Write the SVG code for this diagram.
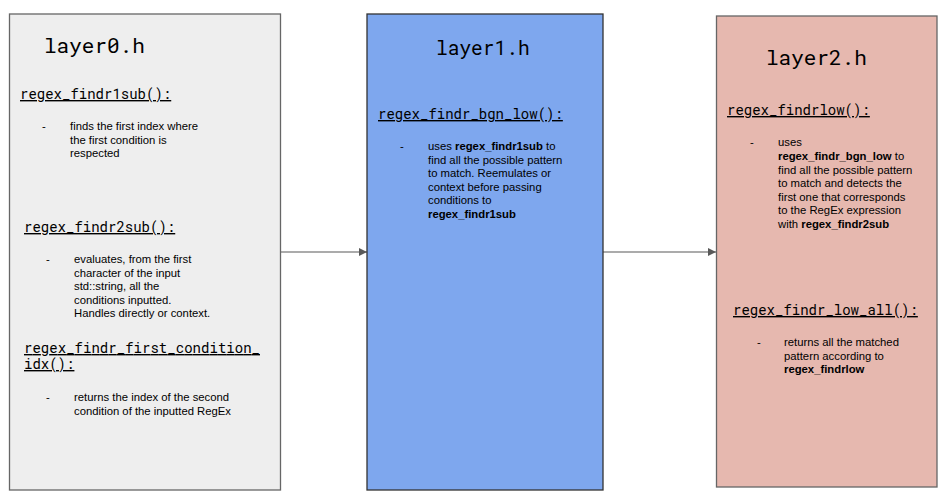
<svg xmlns="http://www.w3.org/2000/svg" width="951" height="502" viewBox="0 0 951 502">
<defs>
<style>
.title{font-family:"Roboto Mono","DejaVu Sans Mono","Liberation Mono",monospace;font-size:21px;fill:#000}
.fn{font-family:"Roboto Mono","DejaVu Sans Mono","Liberation Mono",monospace;font-size:14px;fill:#000;text-decoration:underline}
.d{font-family:"Liberation Sans",Arial,sans-serif;font-size:11.3px;fill:#000}
.b{font-weight:bold}
.conn{stroke:#595959;stroke-width:1.2;fill:none}
</style>
<marker id="arr" viewBox="0 0 10 10" refX="10" refY="5" markerWidth="10" markerHeight="8" markerUnits="userSpaceOnUse" orient="auto">
<path d="M0,0 L10,5 L0,10 z" fill="#595959"/>
</marker>
</defs>
<rect width="951" height="502" fill="#ffffff"/>
<g id="connectors">
<line class="conn" x1="280" y1="252" x2="367" y2="252" marker-end="url(#arr)"/>
<line class="conn" x1="603" y1="252" x2="716" y2="252" marker-end="url(#arr)"/>
</g>
<g id="layer0">
<rect x="9.5" y="14" width="271" height="476" fill="#eeeeee" stroke="#666666" stroke-width="1.3"/>
<text class="title" x="44" y="53">layer0.h</text>
<text class="fn" x="20" y="99">regex_findr1sub():</text>
<text class="d" x="42" y="130">-</text>
<text class="d" x="70" y="130">finds the first index where</text>
<text class="d" x="70" y="143.5">the first condition is</text>
<text class="d" x="70" y="157">respected</text>
<text class="fn" x="24" y="232">regex_findr2sub():</text>
<text class="d" x="46" y="263">-</text>
<text class="d" x="74" y="263">evaluates, from the first</text>
<text class="d" x="74" y="276.5">character of the input</text>
<text class="d" x="74" y="290">std::string, all the</text>
<text class="d" x="74" y="303.5">conditions inputted.</text>
<text class="d" x="74" y="317">Handles directly or context.</text>
<text class="fn" x="24" y="353"><tspan x="24" y="353" textLength="236">regex_findr_first_condition_</tspan><tspan x="24" y="369">idx():</tspan></text>
<text class="d" x="46" y="401">-</text>
<text class="d" x="74" y="401">returns the index of the second</text>
<text class="d" x="74" y="414.5">condition of the inputted RegEx</text>
</g>
<g id="layer1">
<rect x="367" y="14" width="236" height="476" fill="#7ea7ee" stroke="#333333" stroke-width="1.3"/>
<text class="title" x="436" y="55" style="font-size:19.5px">layer1.h</text>
<text class="fn" x="378" y="119">regex_findr_bgn_low():</text>
<text class="d" x="400" y="150">-</text>
<text class="d" x="428" y="150">uses <tspan class="b">regex_findr1sub</tspan> to</text>
<text class="d" x="428" y="163.5">find all the possible pattern</text>
<text class="d" x="428" y="177">to match. Reemulates or</text>
<text class="d" x="428" y="190.5">context before passing</text>
<text class="d" x="428" y="204">conditions to</text>
<text class="d b" x="428" y="218">regex_findr1sub</text>
</g>
<g id="layer2">
<rect x="716.5" y="16" width="220.5" height="471" fill="#e6b8af" stroke="#666666" stroke-width="1.3"/>
<text class="title" x="766" y="65">layer2.h</text>
<text class="fn" x="727" y="115">regex_findrlow():</text>
<text class="d" x="750" y="146">-</text>
<text class="d" x="778" y="146">uses</text>
<text class="d" x="778" y="160"><tspan class="b">regex_findr_bgn_low</tspan> to</text>
<text class="d" x="778" y="173.5">find all the possible pattern</text>
<text class="d" x="778" y="187">to match and detects the</text>
<text class="d" x="778" y="200.5">first one that corresponds</text>
<text class="d" x="778" y="214">to the RegEx expression</text>
<text class="d" x="778" y="228">with <tspan class="b">regex_findr2sub</tspan></text>
<text class="fn" x="733" y="315">regex_findr_low_all():</text>
<text class="d" x="757" y="346">-</text>
<text class="d" x="784" y="346">returns all the matched</text>
<text class="d" x="784" y="359.5">pattern according to</text>
<text class="d b" x="784" y="373">regex_findrlow</text>
</g>
</svg>
